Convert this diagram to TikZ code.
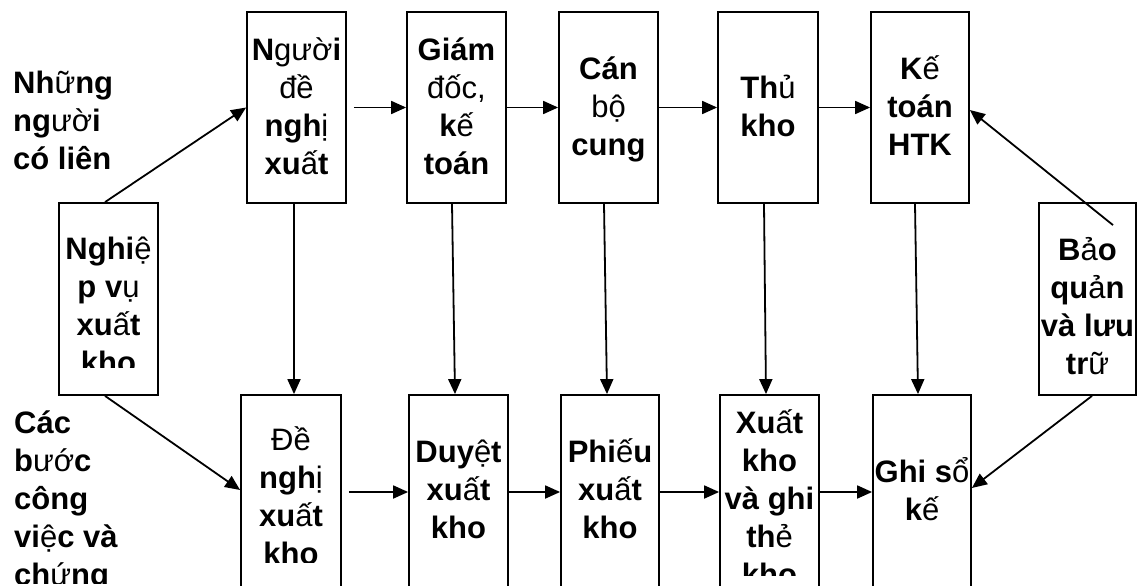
\documentclass[tikz,border=0pt]{standalone}
\usepackage{fontspec}
\setmainfont{Liberation Sans}
\usetikzlibrary{arrows.meta,calc}

% glyphs set in the regular weight inside bold words
\newcommand\lite[1]{{\mdseries #1}}
% fixed first-line height (36pt above the baseline)
\newcommand\tstrut{\rule{0pt}{36pt}}
% a framed box given by its corners: name, x1, y1, x2, y2
\newcommand\mkbox[5]{\node[frame, minimum width={#4-#2}, minimum height={#5-#3}] (#1) at ({(#2+#4)/2},{(#3+#5)/2}) {};}

\begin{document}
\begin{tikzpicture}[x=1pt,y=-1pt,
  frame/.style={draw, line width=1.8pt, rectangle, inner sep=0pt},
  lbl/.style={inner sep=0pt, align=center, anchor=north,
    font=\fontsize{31}{38}\selectfont\bfseries},
  side/.style={lbl, align=left, anchor=north west},
  flow/.style={line width=1.8pt, -{Triangle[length=15pt,width=13pt]}}]

\clip (0,0) rectangle (1138,586);
\fill[white] (0,0) rectangle (1138,586);

% people involved (upper row)
\mkbox{p1}{247}{12}{346}{203}
\mkbox{p2}{407}{12}{506}{203}
\mkbox{p3}{559}{12}{658}{203}
\mkbox{p4}{718}{12}{818}{203}
\mkbox{p5}{871}{12}{969}{203}
% operation and storage
\mkbox{nv}{59}{203}{158}{395}
\mkbox{bq}{1039}{203}{1136}{395}
% work steps and documents (lower row)
\mkbox{s1}{241}{395}{341}{589}
\mkbox{s2}{409}{395}{508}{589}
\mkbox{s3}{561}{395}{659}{589}
\mkbox{s4}{720}{395}{819}{589}
\mkbox{s5}{873}{395}{971}{589}

% side captions
\node[side] (who) at (13,57) {\tstrut Nh\lite{ữ}ng\\ng\lite{ườ}i\\có liên};
\begin{scope}
  \clip (0,395) rectangle (230,583);
  \node[side] (steps) at (14,397) {\tstrut Các\\b\lite{ướ}c\\công\\vi\lite{ệ}c và\\ch\lite{ứ}ng};
\end{scope}

% upper row texts
\node[lbl] (tp1) at (296.5,24) {\tstrut N\lite{gườ}i\\\lite{đề}\\ngh\lite{ị}\\xu\lite{ấ}t};
\node[lbl] (tp2) at (456.5,24) {\tstrut Giám\\\lite{đốc,}\\k\lite{ế}\\toán};
\node[lbl] (tp3) at (608.5,43) {\tstrut Cán\\\lite{bộ}\\cung};
\node[lbl] (tp4) at (768,62) {\tstrut Th\lite{ủ}\\kho};
\node[lbl] (tp5) at (920,43) {\tstrut K\lite{ế}\\toán\\HTK};

% texts that run past their boxes
\begin{scope}
  \clip (59,203) rectangle (158,367);
  \node[lbl] (tnv) at (108.5,223) {\tstrut Nghi\lite{ệ}\\p v\lite{ụ}\\xu\lite{ấ}t\\kho};
\end{scope}
\begin{scope}
  \clip (1039,203) rectangle (1136,375);
  \node[lbl] (tbq) at (1087.5,224) {\tstrut B\lite{ả}o\\qu\lite{ả}n\\và lưu\\tr\lite{ữ}};
\end{scope}
\begin{scope}
  \clip (241,395) rectangle (341,562);
  \node[lbl] (ts1) at (291,414) {\tstrut \lite{Đề}\\ngh\lite{ị}\\xu\lite{ấ}t\\kho};
\end{scope}
\begin{scope}
  \clip (720,395) rectangle (819,575);
  \node[lbl] (ts4) at (769.5,397) {\tstrut Xu\lite{ấ}t\\kho\\và ghi\\th\lite{ẻ}\\kho};
\end{scope}

% lower row texts
\node[lbl] (ts2) at (458.5,426) {\tstrut Duy\lite{ệ}t\\xu\lite{ấ}t\\kho};
\node[lbl] (ts3) at (610,426) {\tstrut Phi\lite{ế}u\\xu\lite{ấ}t\\kho};
\node[lbl] (ts5) at (922,446) {\tstrut Ghi s\lite{ổ}\\k\lite{ế}};

% connectors
\draw[flow] ($(nv.north)+(-3.5,0)$) -- (p1.west);
\draw[flow] ($(nv.south)+(-3.5,0)$) -- ($(s1.west)+(0,-2)$);

\draw[flow] ($(p1.east)+(7,0)$) -- (p2.west);
\draw[flow] (p2.east) -- (p3.west);
\draw[flow] (p3.east) -- (p4.west);
\draw[flow] (p4.east) -- (p5.west);

\draw[flow] ($(s1.east)+(7,0)$) -- (s2.west);
\draw[flow] (s2.east) -- (s3.west);
\draw[flow] (s3.east) -- (s4.west);
\draw[flow] (s4.east) -- (s5.west);

\draw[flow] ($(p1.south)+(-2.5,0)$) -- ($(s1.north)+(3,0)$);
\draw[flow] ($(p2.south)+(-4.5,0)$) -- ($(s2.north)+(-3.5,0)$);
\draw[flow] ($(p3.south)+(-4.5,0)$) -- ($(s3.north)+(-3,0)$);
\draw[flow] ($(p4.south)+(-4,0)$) -- ($(s4.north)+(-3.5,0)$);
\draw[flow] ($(p5.south)+(-5,0)$) -- ($(s5.north)+(-4,0)$);

\coordinate (bqin) at ($(bq.north)+(25.5,23)$);
\draw[flow] (bqin) -- ($(p5.east)+(0,2.5)$);
\draw[flow] ($(bq.south)+(4.5,0)$) -- ($(s5.east)+(0,-4)$);
\end{tikzpicture}
\end{document}
